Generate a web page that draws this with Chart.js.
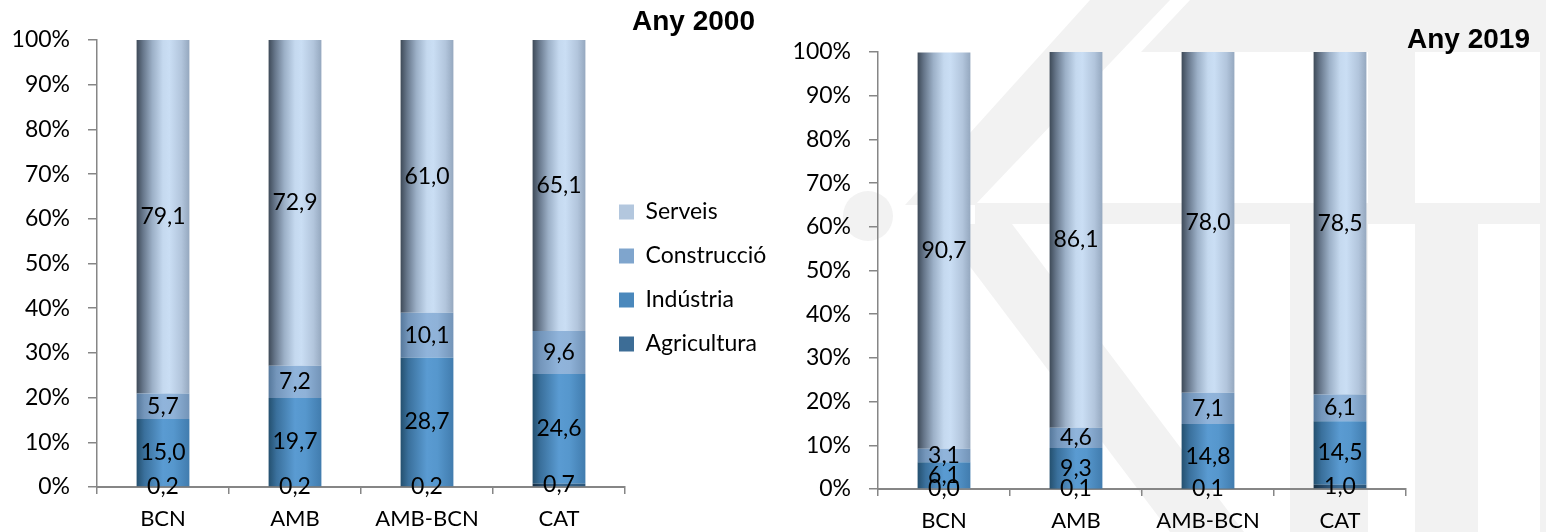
<!DOCTYPE html>
<html><head><meta charset="utf-8">
<script src="https://cdn.jsdelivr.net/npm/chart.js@4.4.1/dist/chart.umd.min.js"></script>
<style>
html,body{margin:0;padding:0;background:#fff;}
#wrap{position:relative;width:1546px;height:532px;overflow:hidden;background:#fff;}
#wm{position:absolute;left:0;top:0;}
#c1{position:absolute;left:0;top:0;}
#c2{position:absolute;left:780px;top:0;}
</style></head><body>
<div id="wrap">
<svg id="wm" width="1546" height="532" xmlns="http://www.w3.org/2000/svg">
  <g fill="#f2f2f2">
    <polygon points="1090,0 1170,0 975,205 905,205"/>
    <circle cx="868" cy="216" r="25"/>
    <rect x="975" y="203" width="571" height="21"/>
    <polygon points="938,224 1012,224 1244,532 1170,532"/>
    <polygon points="1190,0 1546,0 1546,52 1141,52"/>
    <rect x="1368" y="52" width="47" height="151"/>
    <rect x="1540" y="52" width="6" height="151"/>
    <rect x="1290" y="224" width="78" height="308"/>
    <rect x="1415" y="224" width="63" height="308"/>
    <rect x="1540" y="224" width="6" height="308"/>
  </g>
</svg>
<canvas id="c1" width="780" height="532"></canvas>
<canvas id="c2" width="766" height="532"></canvas>
</div>
<script>
// ---- data ----
const categories = ['BCN', 'AMB', 'AMB-BCN', 'CAT'];
const seriesNames = ['Agricultura', 'Indústria', 'Construcció', 'Serveis'];

const agricultura2000 = [0.2, 0.2, 0.2, 0.7];
const industria2000   = [15.0, 19.7, 28.7, 24.6];
const construccio2000 = [5.7, 7.2, 10.1, 9.6];
const serveis2000     = [79.1, 72.9, 61.0, 65.1];

const agricultura2019 = [0.0, 0.1, 0.1, 1.0];
const industria2019   = [6.1, 9.3, 14.8, 14.5];
const construccio2019 = [3.1, 4.6, 7.1, 6.1];
const serveis2019     = [90.7, 86.1, 78.0, 78.5];

const yTickStep = 10;
const titles = ['Any 2000', 'Any 2019'];

// ---- styles ----
const legendColors = ['#3d6d96', '#4a88bc', '#7fa5cd', '#b3c7de'];
const gradStops = [
  [[0,'#162f45'],[0.2,'#26496a'],[0.5,'#3a6a93'],[1,'#2c5679']],
  [[0,'#24506f'],[0.15,'#3a709c'],[0.5,'#5a9bd2'],[0.7,'#5697cd'],[1,'#417cae']],
  [[0,'#56789b'],[0.15,'#7496bb'],[0.5,'#90b4db'],[0.7,'#8fb2d8'],[1,'#7394b8']],
  [[0,'#3e4a58'],[0.12,'#66768a'],[0.3,'#9cb0c7'],[0.5,'#c5d9ef'],[0.62,'#cadef4'],[0.85,'#b2c5dc'],[1,'#95a8bf']]
];
const BAR_PCT = 0.4;
const axisColor = '#868686';

function barFill(seriesIdx) {
  return function(c) {
    const chart = c.chart;
    if (!chart.chartArea || !chart.scales.x) return legendColors[seriesIdx];
    const xs = chart.scales.x;
    const cx = xs.getPixelForValue(c.dataIndex);
    const w = xs.width / categories.length * BAR_PCT;
    const g = chart.ctx.createLinearGradient(cx - w / 2, 0, cx + w / 2, 0);
    gradStops[seriesIdx].forEach(s => g.addColorStop(s[0], s[1]));
    return g;
  };
}

const fmt = v => v.toFixed(1).replace('.', ',');

const dataLabels = {
  id: 'dataLabels',
  afterDatasetsDraw(chart) {
    const ctx = chart.ctx;
    ctx.save();
    ctx.font = '23px Lato';
    ctx.fillStyle = '#000';
    ctx.textAlign = 'center';
    ctx.textBaseline = 'middle';
    chart.data.datasets.forEach((ds, i) => {
      const meta = chart.getDatasetMeta(i);
      meta.data.forEach((bar, j) => {
        const y = (bar.y + bar.base) / 2;
        ctx.fillText(fmt(ds.data[j]), bar.x, y);
      });
    });
    ctx.restore();
  }
};

const legendShift = {
  id: 'legendShift',
  afterLayout(chart, args, o) {
    if (!o || !o.enabled || !chart.legend) return;
    const L = chart.legend;
    const dx = o.swatchX - o.pad - L.left;
    L.left += dx;
    L.width = o.width;
    L.right = L.left + o.width;
    L.top += o.dy; L.bottom += o.dy;
  }
};

function makeChart(canvas, series, cfg) {
  const datasets = series.map((vals, i) => ({
    label: seriesNames[i],
    data: vals,
    yAxisID: 'y',
    backgroundColor: barFill(i),
    borderWidth: 0,
    categoryPercentage: 1,
    barPercentage: BAR_PCT
  }));
  const scales = {
    y: {
      stacked: true, min: 0, max: 100,
      afterFit(s) { s.width = 85; },
      ticks: { stepSize: yTickStep, padding: 18, color: '#000',
        font: { family: 'Lato', size: 23 }, callback: v => v + '%' },
      grid: { display: true, drawOnChartArea: false, drawTicks: true, tickLength: 9, color: axisColor, lineWidth: 1.5 },
      border: { display: true, color: axisColor, width: 1.5 }
    },
    x: {
      stacked: true,
      afterFit(s) { s.height = cfg.xHeight; },
      ticks: { padding: 12, color: '#000', font: { family: 'Lato', size: 22 }, maxRotation: 0 },
      grid: { display: true, drawOnChartArea: false, drawTicks: true, tickLength: 7, color: axisColor, offset: true, lineWidth: 1.5 },
      border: { display: true, color: axisColor, width: 2 }
    }
  };
  if (cfg.rightSpace) {
    scales.yR = {
      type: 'linear', position: 'right', display: true,
      afterFit(s) { s.width = cfg.rightSpace; },
      ticks: { display: false }, grid: { display: false }, border: { display: false }
    };
  }
  return new Chart(canvas, {
    type: 'bar',
    data: { labels: categories, datasets },
    plugins: [dataLabels, legendShift],
    options: {
      responsive: false,
      animation: false,
      devicePixelRatio: 1,
      layout: { padding: cfg.padding },
      plugins: {
        tooltip: { enabled: false },
        title: {
          display: true, text: cfg.title, align: 'end', color: '#000',
          font: { family: 'Liberation Sans', weight: 'bold', size: 28, lineHeight: 0.8 },
          padding: cfg.titlePad
        },
        legend: cfg.legend ? {
          display: true, position: 'right', maxWidth: 130,
          labels: {
            color: '#000', font: { family: 'Lato', size: 23 },
            boxWidth: 15, boxHeight: 15, padding: 21,
            generateLabels: (chart) => chart.data.datasets.map((ds, i) => ({
              text: ds.label, fillStyle: legendColors[i], strokeStyle: legendColors[i],
              lineWidth: 0, hidden: false, datasetIndex: i
            })).reverse()
          }
        } : { display: false },
        legendShift: { enabled: !!cfg.legend, swatchX: 619, pad: 21, dy: 12, width: 184 }
      },
      scales
    }
  });
}

makeChart(document.getElementById('c1'),
  [agricultura2000, industria2000, construccio2000, serveis2000],
  { title: titles[0], legend: true, padding: { left: 12, right: 25, top: 0, bottom: 0 },
    titlePad: { top: 11, bottom: 6.6 }, xHeight: 45 });

makeChart(document.getElementById('c2'),
  [agricultura2019, industria2019, construccio2019, serveis2019],
  { title: titles[1], legend: false, padding: { left: 13, right: 16, top: 0, bottom: 0 },
    titlePad: { top: 28.8, bottom: 0.8 }, xHeight: 43, rightSpace: 124 });
</script>
</body></html>
